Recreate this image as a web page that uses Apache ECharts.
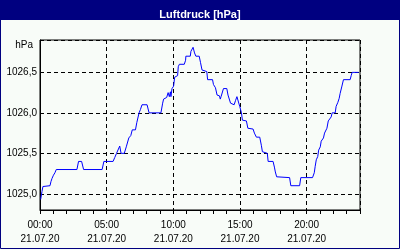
<!DOCTYPE html>
<html>
<head>
<meta charset="utf-8">
<script src="https://cdn.jsdelivr.net/npm/echarts@6/dist/echarts.min.js"></script>
<style>
html,body{margin:0;padding:0;background:#f8fcf8;}
#c{width:400px;height:250px;}
</style>
</head>
<body>
<div id="c"></div>
<script>
// hours since 00:00 on 21.07.20
var hours = [0.05,0.15,0.22,0.30,0.75,0.82,0.90,1.01,1.12,1.22,2.77,2.89,3.12,3.27,4.66,4.79,5.48,5.61,5.74,5.87,5.98,6.08,6.32,6.47,6.66,6.81,6.92,7.16,7.26,7.43,7.53,7.65,8.03,8.18,9.07,9.20,9.27,9.50,9.61,9.70,9.78,9.82,9.90,10.02,10.10,10.32,10.37,10.45,10.82,10.92,10.94,11.27,11.32,11.44,11.48,11.59,11.69,11.94,12.04,12.15,12.19,12.51,12.57,12.94,13.01,13.16,13.28,13.46,13.52,13.58,13.69,13.76,14.01,14.10,14.29,14.36,14.56,14.66,14.77,14.91,14.98,15.11,15.18,15.48,15.59,15.98,16.08,16.23,16.48,16.60,16.68,17.05,17.11,17.48,17.58,17.65,17.75,18.72,18.81,19.47,19.56,20.44,20.57,20.64,20.72,20.83,20.90,21.02,21.09,21.26,21.34,21.52,21.62,21.76,21.84,21.91,22.14,22.21,22.34,22.44,22.51,22.63,22.76,23.26,23.34,23.41,23.90];
var pressure = [1024.93,1025.03,1025.09,1025.10,1025.10,1025.15,1025.19,1025.23,1025.26,1025.30,1025.30,1025.40,1025.40,1025.30,1025.30,1025.40,1025.40,1025.45,1025.50,1025.52,1025.59,1025.50,1025.50,1025.58,1025.69,1025.72,1025.79,1025.79,1025.88,1026.00,1026.04,1026.10,1026.10,1026.00,1026.00,1026.12,1026.17,1026.19,1026.25,1026.20,1026.26,1026.20,1026.30,1026.33,1026.44,1026.46,1026.57,1026.60,1026.60,1026.65,1026.70,1026.70,1026.76,1026.76,1026.81,1026.74,1026.70,1026.70,1026.62,1026.53,1026.51,1026.51,1026.41,1026.41,1026.35,1026.31,1026.22,1026.21,1026.17,1026.20,1026.20,1026.30,1026.30,1026.22,1026.12,1026.10,1026.10,1026.15,1026.20,1026.20,1026.08,1026.00,1025.91,1025.90,1025.81,1025.80,1025.75,1025.70,1025.70,1025.60,1025.52,1025.50,1025.40,1025.40,1025.33,1025.27,1025.21,1025.20,1025.10,1025.10,1025.20,1025.20,1025.26,1025.34,1025.42,1025.46,1025.54,1025.58,1025.65,1025.69,1025.75,1025.81,1025.90,1025.90,1025.95,1026.00,1026.00,1026.08,1026.13,1026.18,1026.24,1026.32,1026.41,1026.41,1026.46,1026.50,1026.50];
var xTickHours = [0,5,10,15,20];
var xTickLabels = ['00:00','05:00','10:00','15:00','20:00'];
var dateLabel = '21.07.20';
var yTickValues = [1025.0,1025.5,1026.0,1026.5];
var yTickLabels = ['1025,0','1025,5','1026,0','1026,5'];
var titleText = 'Luftdruck [hPa]';
var unitText = 'hPa';

var data = hours.map(function(h,i){return [h, pressure[i]];});
var FONT = 'Liberation Sans';

var chart = echarts.init(document.getElementById('c'), null, {renderer:'canvas'});
chart.setOption({
  animation:false,
  backgroundColor:'#f8fcf8',
  title:{
    text:titleText, left:'center', top:3,
    textStyle:{color:'#ffffff', fontWeight:'bold', fontSize:11, lineHeight:13, fontFamily:FONT}
  },
  graphic:[
    {type:'rect', z:-1, shape:{x:0,y:0,width:400,height:20}, style:{fill:'#000080'}},
    {type:'rect', z:-1, shape:{x:0.5,y:0.5,width:399,height:248}, style:{fill:null, stroke:'#000080', lineWidth:1}}
  ],
  grid:{left:40,right:40,top:40,bottom:40,show:true,borderColor:'#000',borderWidth:1,backgroundColor:'#f8fcf8'},
  xAxis:[
    {
      type:'value', min:0, max:24, interval:5, position:'bottom',
      axisLine:{show:true, lineStyle:{color:'#000', width:1}},
      axisTick:{show:false},
      splitLine:{show:true, lineStyle:{color:'#000', type:[4,3], width:1}},
      axisLabel:{
        show:true, margin:8, color:'#000', fontSize:10, lineHeight:14, fontFamily:FONT,
        showMaxLabel:false,
        formatter:function(v){
          var i = xTickHours.indexOf(v);
          return i >= 0 ? xTickLabels[i] + '\n' + dateLabel : '';
        }
      }
    },
    {
      type:'value', min:0, max:24, interval:1, position:'bottom', offset:0,
      axisLine:{show:false},
      axisTick:{show:true, inside:false, length:4, lineStyle:{color:'#000', width:1}},
      splitLine:{show:false},
      axisLabel:{show:false}
    }
  ],
  yAxis:{
    type:'value', min:1024.8, max:1026.9, splitNumber:5,
    name:unitText, nameLocation:'end', nameGap:-5.5,
    nameTextStyle:{align:'right', verticalAlign:'middle', padding:[0,7,0,0], color:'#000', fontSize:10, fontFamily:FONT},
    axisLine:{show:true, lineStyle:{color:'#000', width:1}},
    axisTick:{show:false},
    splitLine:{show:true, lineStyle:{color:'#000', type:[4,3], width:1}},
    axisLabel:{
      margin:3, color:'#000', fontSize:10, fontFamily:FONT,
      showMinLabel:false, showMaxLabel:false,
      formatter:function(v){
        for (var i=0;i<yTickValues.length;i++){ if (Math.abs(v-yTickValues[i])<1e-6) return yTickLabels[i]; }
        return '';
      }
    }
  },
  series:[{
    type:'line', xAxisIndex:0, data:data, showSymbol:false, symbol:'none',
    lineStyle:{color:'#0000ff', width:1}, z:3
  }]
});
</script>
</body>
</html>
